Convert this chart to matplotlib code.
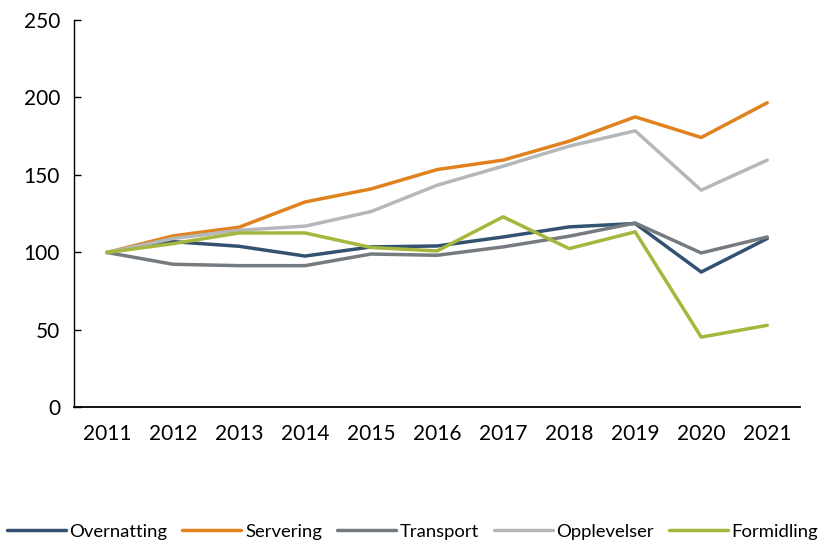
import matplotlib
matplotlib.use('Agg')
import matplotlib.pyplot as plt

#Index values, 2011 = 100
years = ['2011', '2012', '2013', '2014', '2015', '2016',
         '2017', '2018', '2019', '2020', '2021']
overnatting = [100, 107, 104, 97.7, 103.6, 104.2, 110, 116.5, 118.7, 87.4, 109]
servering = [100, 110.7, 116.3, 132.6, 141, 153.5, 159.6, 171.8, 187.5, 174.2, 196.6]
transport = [100, 92.4, 91.5, 91.5, 99, 98.2, 103.6, 110.5, 119, 99.7, 110]
opplevelser = [100, 109, 114.3, 117, 126.4, 143.4, 155.7, 168.6, 178.5, 140.2, 159.6]
formidling = [100, 105.7, 112.6, 112.6, 103.2, 101, 123, 102.5, 113.3, 45.4, 53]

names = ['Overnatting', 'Servering', 'Transport', 'Opplevelser', 'Formidling']
colors = ['#335170', '#E0821E', '#767B80', '#B4B8BB', '#A5B73C']
series = [overnatting, servering, transport, opplevelser, formidling]

plt.rcParams['font.family'] = ['Lato', 'DejaVu Sans']

fig = plt.figure(figsize=(8.25, 5.4), dpi=100)
ax = fig.add_axes([0.0897, 0.2454, 0.8803, 0.7176])

x = list(range(len(years)))
for name, col, vals in zip(names, colors, series):
    ax.plot(x, vals, color=col, linewidth=2.5, label=name,
            solid_capstyle='round', solid_joinstyle='round')

ax.set_xlim(-0.5, len(years) - 0.5)
ax.set_ylim(0, 250)
ax.set_yticks(range(0, 251, 50))
ax.set_xticks(x)
ax.set_xticklabels(years)
ax.tick_params(axis='y', direction='in', length=5, width=1, labelsize=15, pad=10)
ax.tick_params(axis='x', length=0, labelsize=15, pad=12)
for s in ['top', 'right']:
    ax.spines[s].set_visible(False)
ax.spines['left'].set_linewidth(1)
ax.spines['bottom'].set_linewidth(1.3)

fig.legend(loc='lower center', bbox_to_anchor=(0.5, -0.03), ncol=5,
           frameon=False, fontsize=13.3, handlelength=3.2,
           columnspacing=0.8, handletextpad=0.2)

fig.savefig('out.png', dpi=100)
